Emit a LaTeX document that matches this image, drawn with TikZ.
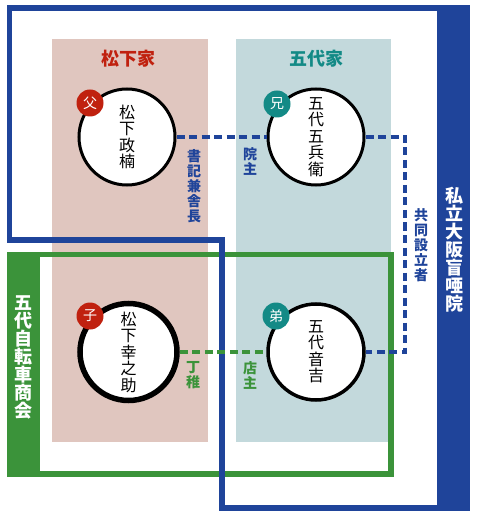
\documentclass[tikz,border=0pt]{standalone}
\usepackage{fontspec}
\setmainfont{Noto Sans CJK JP}
\definecolor{azul}{HTML}{1F449A}
\definecolor{verde}{HTML}{3B933A}
\definecolor{rosa}{HTML}{E0C6BF}
\definecolor{celeste}{HTML}{C3D9DC}
\definecolor{rojo}{HTML}{C0210F}
\definecolor{turq}{HTML}{138A86}
\tikzset{
  persona/.style={circle, draw=black, fill=white, line width=3pt, minimum size=96pt, inner sep=0pt, align=center, font=\fontsize{16}{16.5}\selectfont},
  insignia/.style={circle, minimum size=27pt, inner sep=0pt, text=white, font=\fontsize{14}{14}\selectfont},
  rol/.style={align=center, font=\bfseries\fontsize{14}{15}\selectfont},
  barra/.style={align=center, text=white, font=\bfseries\fontsize{18}{18}\selectfont},
  enlace/.style={line width=4pt, dash pattern=on 8pt off 4.5pt}
}
\begin{document}
\begin{tikzpicture}[x=1pt, y=-1pt]
\useasboundingbox (0,0) rectangle (478,518);
% fundos das famílias
\fill[rosa] (52,39) rectangle (208,442);
\fill[celeste] (236,39) rectangle (391,442);
\node[font=\bfseries\fontsize{18}{18}\selectfont, text=rojo] (matsushita) at (128,59) {松下家};
\node[font=\bfseries\fontsize{18}{18}\selectfont, text=turq] (godai) at (316,59) {五代家};
% moldura verde
\draw[verde, line width=5.5pt] (9.5,254.5) rectangle (391,474);
\fill[verde] (6.7,251.7) rectangle (40,476.7);
\node[barra] (shokai) at (23,357) {五\\代\\自\\転\\車\\商\\会};
% moldura azul
\draw[azul, line width=5.5pt, line join=miter] (440,8) -- (9.5,8) -- (9.5,240) -- (222,240) -- (222,508) -- (440,508);
\fill[azul] (437,5.3) rectangle (470,510.8);
\node[barra] (moain) at (454,250) {私\\立\\大\\阪\\盲\\唖\\院};
% pessoas
\node[persona] (masakusu) at (127,137) {松\\下\\政\\楠};
\node[persona] (gohei) at (316,137) {五\\代\\五\\兵\\衛};
\node[persona, line width=5.5pt, minimum size=97pt] (konosuke) at (128.5,352) {松\\下\\幸\\之\\助};
\node[persona, line width=3.5pt] (otokichi) at (316,352) {五\\代\\音\\吉};
\node[insignia, fill=rojo] (chichi) at (90,103) {父};
\node[insignia, fill=turq] (ani) at (277,104) {兄};
\node[insignia, fill=rojo] (ko) at (90,316) {子};
\node[insignia, fill=turq] (otouto) at (276,316) {弟};
% ligações
\coordinate (canto) at (405,137);
\draw[azul, enlace] (masakusu) -- (gohei);
\draw[azul, enlace] (gohei) -- (canto) |- (otokichi);
\draw[verde, enlace] (konosuke) -- (otokichi);
\node[rol, text=azul] (shoki) at (194,186) {書\\記\\兼\\舎\\長};
\node[rol, text=azul] (inshu) at (250,162) {院\\主};
\node[rol, text=azul] (setsuritsu) at (421,245) {共\\同\\設\\立\\者};
\node[rol, text=verde] (decchi) at (193,375) {丁\\稚};
\node[rol, text=verde] (tenshu) at (250,375) {店\\主};
\end{tikzpicture}
\end{document}
